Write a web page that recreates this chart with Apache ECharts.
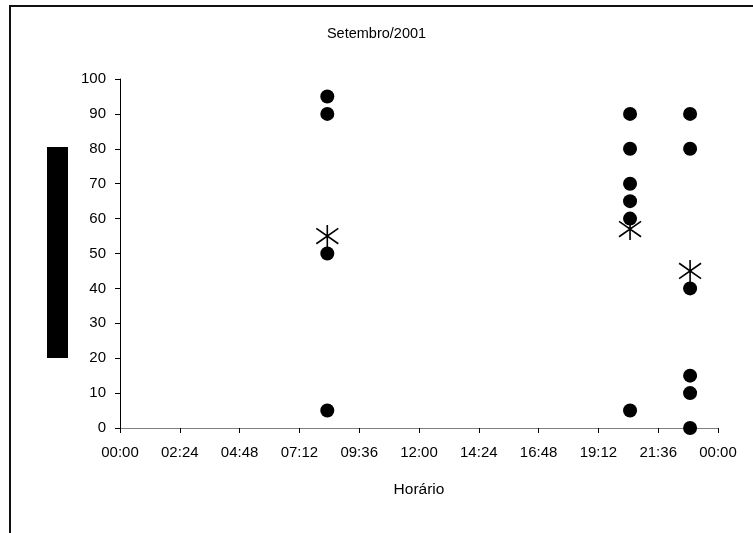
<!DOCTYPE html>
<html>
<head>
<meta charset="utf-8">
<script src="https://cdn.jsdelivr.net/npm/echarts@6/dist/echarts.min.js"></script>
<style>html,body{margin:0;padding:0;background:#fff}#c{width:753px;height:533px}</style>
</head>
<body>
<div id="c"></div>
<script>
// Horário (horas do dia) e valores observados
var obsTimes = [8.32, 8.32, 8.32, 8.32,
                20.47, 20.47, 20.47, 20.47, 20.47, 20.47,
                22.88, 22.88, 22.88, 22.88, 22.88, 22.88];
var obsValues = [95, 90, 50, 5,
                 90, 80, 70, 65, 60, 5,
                 90, 80, 40, 15, 10, 0];
var meanTimes = [8.32, 20.47, 22.88];
var meanValues = [55, 57, 45];
var yTicks = [0, 10, 20, 30, 40, 50, 60, 70, 80, 90, 100];

function pairs(xs, ys) { return xs.map(function (x, i) { return [x, ys[i]]; }); }
function hhmm(v) {
  var m = Math.round(v * 60);
  var h = Math.floor(m / 60) % 24, mm = m % 60;
  return (h < 10 ? '0' : '') + h + ':' + (mm < 10 ? '0' : '') + mm;
}

var font = 'Liberation Sans, Arial, sans-serif';
var chart = echarts.init(document.getElementById('c'), null, {renderer: 'canvas'});
chart.setOption({
  animation: false,
  backgroundColor: '#fff',
  title: {
    text: 'Setembro/2001', left: 'center', top: 21,
    textStyle: {fontFamily: font, fontSize: 14.5, fontWeight: 'normal', color: '#000'}
  },
  grid: {left: 120, right: 35, top: 79, bottom: 105},
  graphic: [
    {type: 'rect', shape: {x: 10, y: 6, width: 800, height: 600},
     style: {fill: 'none', stroke: '#111', lineWidth: 2}, silent: true},
    {type: 'rect', shape: {x: 47, y: 147, width: 21, height: 211},
     style: {fill: '#000'}, silent: true}
  ],
  xAxis: {
    type: 'value', min: 0, max: 24, interval: 2.4,
    name: 'Horário', nameLocation: 'middle', nameGap: 54,
    nameTextStyle: {fontFamily: font, fontSize: 15.5, color: '#000'},
    axisLine: {show: true, onZero: false, lineStyle: {color: '#808080', width: 1}},
    axisTick: {show: true, length: 5, lineStyle: {color: '#000'}},
    axisLabel: {formatter: hhmm, fontFamily: font, fontSize: 15, color: '#000', margin: 17},
    splitLine: {show: false}
  },
  yAxis: {
    type: 'value', min: yTicks[0], max: yTicks[yTicks.length - 1], interval: 10,
    axisLine: {show: true, lineStyle: {color: '#000', width: 1}},
    axisTick: {show: true, length: 5, lineStyle: {color: '#000'}},
    axisLabel: {fontFamily: font, fontSize: 15, color: '#000', margin: 14},
    splitLine: {show: false}
  },
  series: [
    {
      type: 'scatter', name: 'Observações', data: pairs(obsTimes, obsValues),
      symbol: 'circle', symbolSize: 14, itemStyle: {color: '#000', opacity: 1}, z: 3
    },
    {
      type: 'scatter', name: 'Média', data: pairs(meanTimes, meanValues),
      symbol: 'path://M10,0L10,20M0,3L20,17M0,17L20,3',
      symbolSize: 22,
      itemStyle: {color: 'none', borderColor: '#000', borderWidth: 1.6, opacity: 1}, z: 4
    }
  ]
});
</script>
</body>
</html>
